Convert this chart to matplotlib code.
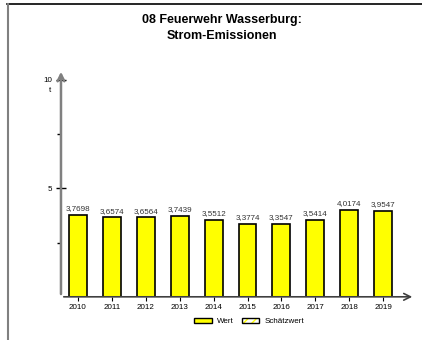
import matplotlib
matplotlib.use("Agg")
import matplotlib.pyplot as plt
from matplotlib.patches import Patch

plt.rcParams['font.family'] = ['Liberation Sans', 'DejaVu Sans']

years = ['2010', '2011', '2012', '2013', '2014', '2015', '2016', '2017', '2018', '2019']
values = [3.7698, 3.6574, 3.6564, 3.7439, 3.5512, 3.3774, 3.3547, 3.5414, 4.0174, 3.9547]
labels = ['3,7698', '3,6574', '3,6564', '3,7439', '3,5512', '3,3774', '3,3547', '3,5414', '4,0174', '3,9547']
y_ticks = [5, 10]
y_minor = [2.5, 7.5]
title = '08 Feuerwehr Wasserburg:\nStrom-Emissionen'
unit = 't'

fig = plt.figure(figsize=(4.22, 3.40), dpi=100)

# frame lines of the page
fig.add_artist(plt.Line2D([0.017, 1.0], [0.989, 0.989], color='black', lw=1.2))
fig.add_artist(plt.Line2D([0.018, 0.018], [0.0, 0.989], color='#808080', lw=1.5))

fig.text(0.525, 0.958, title, ha='center', va='top', fontsize=9,
         fontweight='bold', linespacing=1.45)

ax = fig.add_axes([0.1445, 0.127, 0.839, 0.67])
x = list(range(len(years)))
ax.bar(x, values, width=0.53, color='#ffff00', edgecolor='black', lw=1.2, zorder=3)
for xi, v, lab in zip(x, values, labels):
    ax.text(xi, v + 0.12, lab, ha='center', va='bottom', fontsize=5.8, color='#333333')

ax.set_xlim(-0.5, 9.94)
ax.set_ylim(0, 10.5)
for s in ax.spines.values():
    s.set_visible(False)

# axes with open arrow heads
ax.annotate('', xy=(9.94, 0), xytext=(-0.5, 0),
            arrowprops=dict(arrowstyle='->', color='#404040', lw=1.2, mutation_scale=12),
            annotation_clip=False)
ax.annotate('', xy=(-0.5, 10.5), xytext=(-0.5, 0),
            arrowprops=dict(arrowstyle='->', color='#808080', lw=1.8, mutation_scale=12),
            annotation_clip=False)

ax.set_xticks(x)
ax.set_xticklabels(years, fontsize=5.8)
ax.tick_params(axis='x', length=3, width=0.8, pad=2)
ax.set_yticks(y_ticks)
ax.set_yticklabels([str(t) for t in y_ticks], fontsize=5.8)
ax.set_yticks(y_minor, minor=True)
ax.tick_params(axis='y', which='major', direction='inout', length=7, width=1, pad=3)
ax.tick_params(axis='y', which='minor', direction='out', length=3, width=1)
ax.text(-0.5 - 0.33, 9.65, unit, ha='center', va='top', fontsize=5.8)

wert = Patch(facecolor='#ffff00', edgecolor='black', lw=1.0)
schaetz = (Patch(facecolor='white', edgecolor='#ffff00', hatch='////', lw=0),
           Patch(facecolor='none', edgecolor='black', lw=1.0))
leg = fig.legend([wert, schaetz], ['Wert', 'Schätzwert'], loc='center', bbox_to_anchor=(0.59, 0.055),
                 ncol=2, frameon=False, fontsize=5.8, handlelength=2.2, handleheight=0.6,
                 columnspacing=1.0, handletextpad=0.6)

fig.savefig('out.png', dpi=100)
